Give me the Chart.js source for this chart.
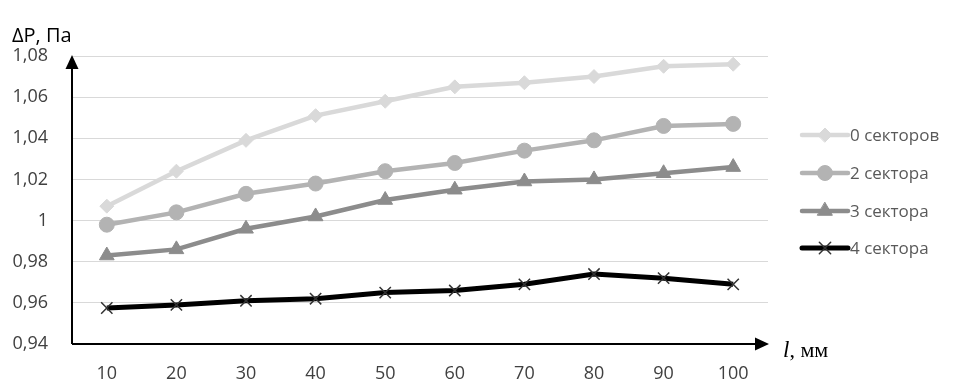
<!DOCTYPE html>
<html>
<head>
<meta charset="utf-8">
<script src="https://cdn.jsdelivr.net/npm/chart.js@4/dist/chart.umd.min.js"></script>
<style>
  html, body { margin: 0; padding: 0; background: #fff; }
  #wrap { position: relative; width: 959px; height: 387px; }
</style>
</head>
<body>
<div id="wrap"><canvas id="pressureChart" width="959" height="387"></canvas></div>
<script>
// Data
const categories = ['10', '20', '30', '40', '50', '60', '70', '80', '90', '100'];
const sectors0 = [1.007, 1.024, 1.039, 1.051, 1.058, 1.065, 1.067, 1.070, 1.075, 1.076];
const sectors2 = [0.998, 1.004, 1.013, 1.018, 1.024, 1.028, 1.034, 1.039, 1.046, 1.047];
const sectors3 = [0.983, 0.986, 0.996, 1.002, 1.010, 1.015, 1.019, 1.020, 1.023, 1.026];
const sectors4 = [0.9575, 0.959, 0.961, 0.962, 0.965, 0.966, 0.969, 0.974, 0.972, 0.969];
const seriesNames = ['0 секторов', '2 сектора', '3 сектора', '4 сектора'];
const yMin = 0.94;
const yMax = 1.08;
const yStep = 0.02;

const FONT = '"Open Sans", "Noto Sans", sans-serif';

// Format ticks the way the original does: comma decimal, "1" without zeros
function formatTick(v) {
    return String(Number(v.toFixed(2))).replace('.', ',');
}

// Draw the axis arrows, the axis titles and the line-style legend
const decorPlugin = {
    id: 'decor',
    afterDatasetsDraw(chart) {
        const ctx = chart.ctx;
        const area = chart.chartArea;
        const x0 = area.left, y0 = area.bottom;
        ctx.save();

        // axes with arrow heads
        ctx.strokeStyle = '#000';
        ctx.fillStyle = '#000';
        ctx.lineWidth = 2;
        ctx.beginPath();
        ctx.moveTo(x0, y0);
        ctx.lineTo(x0, area.top + 10);
        ctx.moveTo(x0, y0);
        ctx.lineTo(area.right - 10, y0);
        ctx.stroke();

        ctx.beginPath();
        ctx.moveTo(x0, area.top - 1);
        ctx.lineTo(x0 - 6.5, area.top + 13);
        ctx.lineTo(x0 + 6.5, area.top + 13);
        ctx.closePath();
        ctx.fill();

        ctx.beginPath();
        ctx.moveTo(area.right + 1, y0);
        ctx.lineTo(area.right - 13, y0 - 6.5);
        ctx.lineTo(area.right - 13, y0 + 6.5);
        ctx.closePath();
        ctx.fill();

        // y axis title
        ctx.fillStyle = '#000';
        ctx.font = '20px ' + FONT;
        ctx.textAlign = 'left';
        ctx.textBaseline = 'alphabetic';
        ctx.fillText('ΔP, Па', 12, 42);

        // x axis title, serif with italic l
        ctx.font = 'italic 23px "Liberation Serif", serif';
        ctx.fillText('l', 783, 357);
        const lw = ctx.measureText('l').width;
        ctx.font = '22px "Liberation Serif", serif';
        ctx.fillText(', мм', 783 + lw, 357);

        // legend: line with marker, then the name
        const legendX = 802, legendW = 46;
        const legendY = [135, 173, 211, 248];
        chart.data.datasets.forEach((ds, i) => {
            const y = legendY[i];
            ctx.strokeStyle = ds.borderColor;
            ctx.lineWidth = ds.borderWidth;
            ctx.lineCap = 'round';
            ctx.beginPath();
            ctx.moveTo(legendX, y);
            ctx.lineTo(legendX + legendW, y);
            ctx.stroke();
            ctx.fillStyle = ds.pointBackgroundColor;
            ctx.strokeStyle = ds.pointBorderColor;
            ctx.lineWidth = ds.pointBorderWidth;
            Chart.helpers.drawPoint(ctx, {
                pointStyle: ds.pointStyle,
                radius: ds.pointRadius,
                rotation: 0,
                borderWidth: ds.pointBorderWidth
            }, legendX + legendW / 2, y);
            ctx.fillStyle = '#595959';
            ctx.font = '17px ' + FONT;
            ctx.textBaseline = 'middle';
            ctx.fillText(ds.label, legendX + legendW + 2, y + 1);
        });
        ctx.restore();
    }
};

function makeDataset(label, values, color, style, radius, extra) {
    return Object.assign({
        label: label,
        data: values,
        borderColor: color,
        borderWidth: 4.5,
        pointStyle: style,
        pointRadius: radius,
        pointHoverRadius: radius,
        pointBackgroundColor: color,
        pointBorderColor: color,
        pointBorderWidth: 1,
        tension: 0
    }, extra || {});
}

const ctx = document.getElementById('pressureChart').getContext('2d');
new Chart(ctx, {
    type: 'line',
    data: {
        labels: categories,
        datasets: [
            makeDataset(seriesNames[0], sectors0, '#d9d9d9', 'rectRot', 7),
            makeDataset(seriesNames[1], sectors2, '#b3b3b3', 'circle', 7.5),
            makeDataset(seriesNames[2], sectors3, '#8c8c8c', 'triangle', 8.5),
            makeDataset(seriesNames[3], sectors4, '#000000', 'crossRot', 8, {
                borderWidth: 5,
                pointBorderColor: '#333333',
                pointBackgroundColor: '#333333',
                pointBorderWidth: 1.5
            })
        ]
    },
    plugins: [decorPlugin],
    options: {
        responsive: false,
        animation: false,
        events: [],
        layout: { padding: { left: 0, top: 56, right: 191, bottom: 0 } },
        plugins: {
            legend: { display: false },
            tooltip: { enabled: false }
        },
        scales: {
            x: {
                type: 'category',
                offset: true,
                grid: { display: false, drawTicks: false },
                border: { display: false },
                ticks: {
                    color: '#404040',
                    font: { family: FONT, size: 18 },
                    padding: 19,
                    maxRotation: 0
                },
                afterFit(scale) { scale.height = 43; }
            },
            y: {
                min: yMin,
                max: yMax,
                grid: { color: '#d9d9d9', lineWidth: 1, drawTicks: false },
                border: { display: false },
                ticks: {
                    stepSize: yStep,
                    color: '#404040',
                    font: { family: FONT, size: 18 },
                    padding: 24,
                    callback: v => formatTick(v)
                },
                afterFit(scale) { scale.width = 72; }
            }
        }
    }
});
</script>
</body>
</html>
